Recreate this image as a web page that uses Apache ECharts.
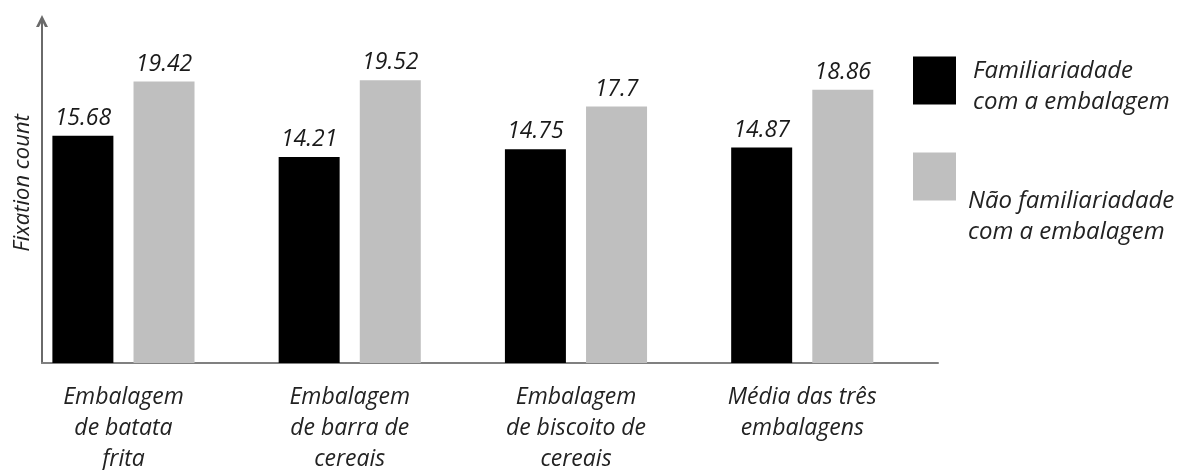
<!DOCTYPE html>
<html>
<head>
<meta charset="utf-8">
<script src="https://cdn.jsdelivr.net/npm/echarts@6/dist/echarts.min.js"></script>
<style>
html,body{margin:0;padding:0;background:#fff;}
#chart{width:1185px;height:470px;}
</style>
</head>
<body>
<div id="chart"></div>
<script>
// ---- data ----
var categories = [
  'Embalagem\nde batata\nfrita',
  'Embalagem\nde barra de\ncereais',
  'Embalagem\nde biscoito de\ncereais',
  'Média das três\nembalagens'
];
var seriesNames = ['Familiariadade\ncom a embalagem', 'Não familiariadade\ncom a embalagem'];
var familiar = [15.68, 14.21, 14.75, 14.87];
var naoFamiliar = [19.42, 19.52, 17.7, 18.86];
var yAxisTitle = 'Fixation count';

function toPoints(arr) {
  return arr.map(function (v, i) { return [i, v]; });
}

var FONT = 'Open Sans';
var txt = { fontFamily: FONT, fontStyle: 'italic', fontSize: 24, lineHeight: 31, color: '#222' };
var chart = echarts.init(document.getElementById('chart'));
chart.setOption({
  backgroundColor: '#ffffff',
  animation: false,
  grid: { left: 42, right: 247, top: 21, bottom: 107, containLabel: false, outerBoundsMode: 'none' },
  legend: {
    orient: 'vertical',
    left: 913,
    top: 43,
    padding: 0,
    itemGap: -12.5,
    itemWidth: 43,
    itemHeight: 48,
    icon: 'rect',
    formatter: function (name) {
      var lines = name.split('\n').map(function (l) { return '{t|' + l + '}'; });
      var sp = name === seriesNames[0] ? 's1' : 's2';
      return '{' + sp + '| }\n' + lines.join('\n');
    },
    textStyle: {
      fontFamily: FONT, fontStyle: 'italic', fontSize: 24, lineHeight: 31, color: '#222',
      rich: {
        t: txt,
        s1: { fontFamily: FONT, fontSize: 8, lineHeight: 13, height: 13 },
        s2: { fontFamily: FONT, fontSize: 8, lineHeight: 80, height: 80 }
      }
    },
    data: [
      { name: seriesNames[0], textStyle: { padding: [0, 0, 0, 12] } },
      { name: seriesNames[1], textStyle: { padding: [0, 0, 0, 7] } }
    ]
  },
  xAxis: {
    type: 'value',
    min: -0.36,
    max: 3.6,
    splitLine: { show: false },
    axisTick: { show: false },
    axisLine: { show: true, onZero: false, lineStyle: { color: '#808080', width: 2 } },
    axisLabel: {
      customValues: [0, 1, 2, 3],
      formatter: function (v) { return categories[Math.round(v)] || ''; },
      fontFamily: FONT, fontStyle: 'italic', fontSize: 23, lineHeight: 31, color: '#222',
      margin: 19
    }
  },
  yAxis: {
    type: 'value',
    min: 0,
    max: 23.6,
    name: yAxisTitle,
    nameLocation: 'middle',
    nameRotate: 90,
    nameGap: 8,
    nameTextStyle: { fontFamily: FONT, fontStyle: 'italic', fontSize: 22, color: '#222', padding: [0, 0, 0, 18] },
    splitLine: { show: false },
    axisTick: { show: false },
    axisLabel: { show: false },
    axisLine: {
      show: true,
      onZero: false,
      lineStyle: { color: '#6a6a6a', width: 2 },
      symbol: ['none', 'path://M0,10 L5,0 L10,10 L7.5,10 L5,5 L2.5,10 Z'],
      symbolSize: [15, 12]
    }
  },
  series: [
    {
      name: seriesNames[0],
      type: 'bar',
      data: toPoints(familiar),
      barWidth: 61,
      barGap: '33%',
      itemStyle: { color: '#000000' },
      label: { show: true, position: 'top', distance: 6, fontFamily: FONT, fontStyle: 'italic', fontSize: 23, color: '#1a1a1a' }
    },
    {
      name: seriesNames[1],
      type: 'bar',
      data: toPoints(naoFamiliar),
      barWidth: 61,
      barGap: '33%',
      itemStyle: { color: '#bfbfbf' },
      label: { show: true, position: 'top', distance: 6, fontFamily: FONT, fontStyle: 'italic', fontSize: 23, color: '#1a1a1a' }
    }
  ]
});
</script>
</body>
</html>
